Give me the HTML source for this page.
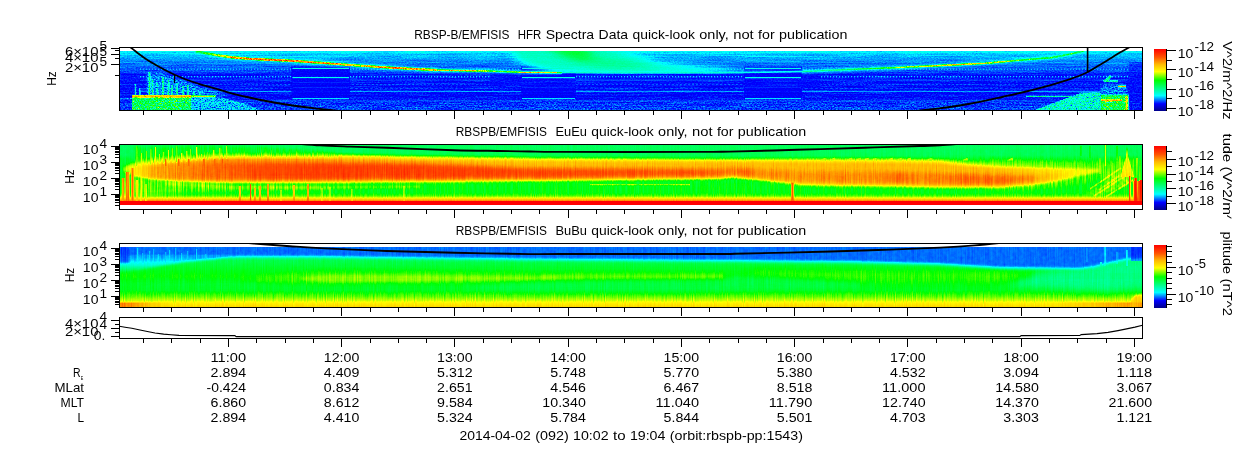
<!DOCTYPE html>
<html><head><meta charset="utf-8"><title>RBSP-B EMFISIS quick-look</title>
<style>html,body{margin:0;padding:0;background:#fff}svg{display:block}text{font-family:"Liberation Sans",sans-serif;fill:#000}.ax path{stroke:#000;fill:none;shape-rendering:crispEdges}</style></head><body>
<svg width="1250" height="449" viewBox="0 0 1250 449">
<rect width="1250" height="449" fill="#fff"/>
<defs>
<linearGradient id="cb" x1="0" y1="1" x2="0" y2="0">
<stop offset="0.0000" stop-color="rgb(0,0,137)"/>
<stop offset="0.1176" stop-color="rgb(0,0,255)"/>
<stop offset="0.2471" stop-color="rgb(0,255,255)"/>
<stop offset="0.4941" stop-color="rgb(0,255,0)"/>
<stop offset="0.6353" stop-color="rgb(255,255,0)"/>
<stop offset="0.7529" stop-color="rgb(255,185,0)"/>
<stop offset="0.8667" stop-color="rgb(255,84,0)"/>
<stop offset="1.0000" stop-color="rgb(255,0,0)"/>
</linearGradient>
<filter id="b05" x="-20%" y="-60%" width="140%" height="220%" color-interpolation-filters="sRGB"><feGaussianBlur stdDeviation="0.5 0.5"/></filter>
<filter id="b1" x="-20%" y="-60%" width="140%" height="220%" color-interpolation-filters="sRGB"><feGaussianBlur stdDeviation="1 1"/></filter>
<filter id="b15" x="-20%" y="-60%" width="140%" height="220%" color-interpolation-filters="sRGB"><feGaussianBlur stdDeviation="1.5 1.5"/></filter>
<filter id="b2" x="-20%" y="-60%" width="140%" height="220%" color-interpolation-filters="sRGB"><feGaussianBlur stdDeviation="2 2"/></filter>
<filter id="b3" x="-20%" y="-60%" width="140%" height="220%" color-interpolation-filters="sRGB"><feGaussianBlur stdDeviation="3 3"/></filter>
<filter id="b6" x="-20%" y="-60%" width="140%" height="220%" color-interpolation-filters="sRGB"><feGaussianBlur stdDeviation="6 3.2"/></filter>
<filter id="bw" x="-20%" y="-60%" width="140%" height="220%" color-interpolation-filters="sRGB"><feGaussianBlur stdDeviation="4 1.2"/></filter>
<filter id="bv" x="-20%" y="-60%" width="140%" height="220%" color-interpolation-filters="sRGB"><feGaussianBlur stdDeviation="0.5 2"/></filter>
<filter id="f1" filterUnits="userSpaceOnUse" x="120" y="51" width="1022" height="59" color-interpolation-filters="sRGB">
<feTurbulence type="fractalNoise" baseFrequency="0.55 0.8" numOctaves="2" seed="7" result="t1"/>
<feColorMatrix in="t1" type="matrix" values="1 0 0 0 0 1 0 0 0 0 1 0 0 0 0 0 0 0 0 1" result="n1"/>
<feTurbulence type="fractalNoise" baseFrequency="0.03 0.9" numOctaves="1" seed="3" result="t2"/>
<feColorMatrix in="t2" type="matrix" values="1 0 0 0 0 1 0 0 0 0 1 0 0 0 0 0 0 0 0 1" result="n2"/>
<feColorMatrix in="SourceGraphic" type="matrix" values="1 0 0 0 0 1 0 0 0 0 1 0 0 0 0 0 0 0 0 1" result="val"/>
<feColorMatrix in="SourceGraphic" type="matrix" values="0 1 0 0 0 0 1 0 0 0 0 1 0 0 0 0 0 0 0 1" result="a1"/>
<feColorMatrix in="SourceGraphic" type="matrix" values="0 0 1 0 0 0 0 1 0 0 0 0 1 0 0 0 0 0 0 1" result="a2"/>
<feColorMatrix in="SourceGraphic" type="matrix" values="0 -1 0 0 1 0 -1 0 0 1 0 -1 0 0 1 0 0 0 0 1" result="i1"/>
<feColorMatrix in="SourceGraphic" type="matrix" values="0 0 -1 0 1 0 0 -1 0 1 0 0 -1 0 1 0 0 0 0 1" result="i2"/>
<feComposite in="val" in2="i1" operator="arithmetic" k1="0" k2="1" k3="0.5" k4="-0.5" result="s1"/>
<feComposite in="s1" in2="i2" operator="arithmetic" k1="0" k2="1" k3="0.5" k4="-0.5" result="s2"/>
<feComposite in="a1" in2="n1" operator="arithmetic" k1="1" k2="0" k3="0" k4="0" result="p1"/>
<feComposite in="a2" in2="n2" operator="arithmetic" k1="1" k2="0" k3="0" k4="0" result="p2"/>
<feComposite in="s2" in2="p1" operator="arithmetic" k1="0" k2="1" k3="1" k4="0" result="q1"/>
<feComposite in="q1" in2="p2" operator="arithmetic" k1="0" k2="1" k3="1" k4="0" result="v"/>
<feComponentTransfer in="v">
<feFuncR type="table" tableValues="0 0 0 0 0 0 0 0 0 0 0 0 0 0 0 0 0 0 0 0 0 0 0 0 0 0 0 0 0 0 0 0 0 0 0 0 0 0 0 0 0 0 0 0.083 0.167 0.25 0.333 0.417 0.5 0.583 0.667 0.75 0.833 0.917 1 1 1 1 1 1 1 1 1 1 1 1 1 1 1 1 1 1 1 1 1 1 1 1 1 1 1 1 1 1 1 1"/>
<feFuncG type="table" tableValues="0 0 0 0 0 0 0 0 0 0 0 0.091 0.182 0.273 0.364 0.455 0.545 0.636 0.727 0.818 0.909 1 1 1 1 1 1 1 1 1 1 1 1 1 1 1 1 1 1 1 1 1 1 1 1 1 1 1 1 1 1 1 1 1 1 0.973 0.945 0.918 0.89 0.863 0.835 0.808 0.78 0.753 0.725 0.685 0.644 0.603 0.562 0.521 0.48 0.439 0.398 0.357 0.32 0.291 0.262 0.233 0.203 0.174 0.145 0.116 0.087 0.058 0.029 0"/>
<feFuncB type="table" tableValues="0.537 0.584 0.63 0.676 0.722 0.769 0.815 0.861 0.907 0.954 1 1 1 1 1 1 1 1 1 1 1 1 0.952 0.905 0.857 0.81 0.762 0.714 0.667 0.619 0.571 0.524 0.476 0.429 0.381 0.333 0.286 0.238 0.19 0.143 0.095 0.048 0 0 0 0 0 0 0 0 0 0 0 0 0 0 0 0 0 0 0 0 0 0 0 0 0 0 0 0 0 0 0 0 0 0 0 0 0 0 0 0 0 0 0 0"/>
</feComponentTransfer></filter>
<clipPath id="k1"><rect x="120" y="51" width="1022" height="59"/></clipPath>
<linearGradient id="g1" gradientUnits="userSpaceOnUse" x1="0" y1="51" x2="0" y2="110">
<stop offset="0.0000" stop-color="#3f1716"/>
<stop offset="0.0271" stop-color="#3d1716"/>
<stop offset="0.0407" stop-color="#391716"/>
<stop offset="0.0847" stop-color="#361716"/>
<stop offset="0.1525" stop-color="#311716"/>
<stop offset="0.2542" stop-color="#2b1716"/>
<stop offset="0.3559" stop-color="#271716"/>
<stop offset="0.3898" stop-color="#201716"/>
<stop offset="0.7797" stop-color="#1f1a16"/>
<stop offset="0.8475" stop-color="#202b16"/>
<stop offset="0.8983" stop-color="#213316"/>
<stop offset="1.0000" stop-color="#223816"/>
</linearGradient>
<linearGradient id="u1" gradientUnits="userSpaceOnUse" x1="190" y1="0" x2="575" y2="0">
<stop offset="0.0000" stop-color="#734c00" stop-opacity="0.5"/>
<stop offset="0.0571" stop-color="#998000" stop-opacity="0.9"/>
<stop offset="0.1091" stop-color="#c2e600" stop-opacity="1"/>
<stop offset="0.1870" stop-color="#dbf200" stop-opacity="1"/>
<stop offset="0.2857" stop-color="#ccf200" stop-opacity="1"/>
<stop offset="0.3636" stop-color="#c7e600" stop-opacity="1"/>
<stop offset="0.4208" stop-color="#b2b200" stop-opacity="1"/>
<stop offset="0.5325" stop-color="#d6cc00" stop-opacity="1"/>
<stop offset="0.6494" stop-color="#b2cc00" stop-opacity="1"/>
<stop offset="0.7273" stop-color="#bdcc00" stop-opacity="1"/>
<stop offset="0.8052" stop-color="#809900" stop-opacity="1"/>
<stop offset="0.8701" stop-color="#a8b200" stop-opacity="1"/>
<stop offset="0.9506" stop-color="#a8b200" stop-opacity="1"/>
<stop offset="0.9922" stop-color="#6b4c00" stop-opacity="0.4"/>
</linearGradient>
<linearGradient id="u3" gradientUnits="userSpaceOnUse" x1="802" y1="0" x2="1086" y2="0">
<stop offset="0.0000" stop-color="#573300" stop-opacity="0.8"/>
<stop offset="0.1690" stop-color="#6b4c00" stop-opacity="0.9"/>
<stop offset="0.3099" stop-color="#858000" stop-opacity="1"/>
<stop offset="0.4331" stop-color="#b2cc00" stop-opacity="1"/>
<stop offset="0.5563" stop-color="#bdcc00" stop-opacity="1"/>
<stop offset="0.6972" stop-color="#a8cc00" stop-opacity="1"/>
<stop offset="0.7676" stop-color="#808000" stop-opacity="1"/>
<stop offset="1.0000" stop-color="#756600" stop-opacity="0.95"/>
</linearGradient>
<filter id="f2" filterUnits="userSpaceOnUse" x="120" y="145" width="1022" height="60" color-interpolation-filters="sRGB">
<feTurbulence type="fractalNoise" baseFrequency="0.9 0.03" numOctaves="2" seed="11" result="t1"/>
<feColorMatrix in="t1" type="matrix" values="1 0 0 0 0 1 0 0 0 0 1 0 0 0 0 0 0 0 0 1" result="n1"/>
<feTurbulence type="fractalNoise" baseFrequency="0.3 0.3" numOctaves="1" seed="4" result="t2"/>
<feColorMatrix in="t2" type="matrix" values="1 0 0 0 0 1 0 0 0 0 1 0 0 0 0 0 0 0 0 1" result="n2"/>
<feColorMatrix in="SourceGraphic" type="matrix" values="1 0 0 0 0 1 0 0 0 0 1 0 0 0 0 0 0 0 0 1" result="val"/>
<feColorMatrix in="SourceGraphic" type="matrix" values="0 1 0 0 0 0 1 0 0 0 0 1 0 0 0 0 0 0 0 1" result="a1"/>
<feColorMatrix in="SourceGraphic" type="matrix" values="0 0 1 0 0 0 0 1 0 0 0 0 1 0 0 0 0 0 0 1" result="a2"/>
<feColorMatrix in="SourceGraphic" type="matrix" values="0 -1 0 0 1 0 -1 0 0 1 0 -1 0 0 1 0 0 0 0 1" result="i1"/>
<feColorMatrix in="SourceGraphic" type="matrix" values="0 0 -1 0 1 0 0 -1 0 1 0 0 -1 0 1 0 0 0 0 1" result="i2"/>
<feComposite in="val" in2="i1" operator="arithmetic" k1="0" k2="1" k3="0.5" k4="-0.5" result="s1"/>
<feComposite in="s1" in2="i2" operator="arithmetic" k1="0" k2="1" k3="0.5" k4="-0.5" result="s2"/>
<feComposite in="a1" in2="n1" operator="arithmetic" k1="1" k2="0" k3="0" k4="0" result="p1"/>
<feComposite in="a2" in2="n2" operator="arithmetic" k1="1" k2="0" k3="0" k4="0" result="p2"/>
<feComposite in="s2" in2="p1" operator="arithmetic" k1="0" k2="1" k3="1" k4="0" result="q1"/>
<feComposite in="q1" in2="p2" operator="arithmetic" k1="0" k2="1" k3="1" k4="0" result="v"/>
<feComponentTransfer in="v">
<feFuncR type="table" tableValues="0 0 0 0 0 0 0 0 0 0 0 0 0 0 0 0 0 0 0 0 0 0 0 0 0 0 0 0 0 0 0 0 0 0 0 0 0 0 0 0 0 0 0 0.083 0.167 0.25 0.333 0.417 0.5 0.583 0.667 0.75 0.833 0.917 1 1 1 1 1 1 1 1 1 1 1 1 1 1 1 1 1 1 1 1 1 1 1 1 1 1 1 1 1 1 1 1"/>
<feFuncG type="table" tableValues="0 0 0 0 0 0 0 0 0 0 0 0.091 0.182 0.273 0.364 0.455 0.545 0.636 0.727 0.818 0.909 1 1 1 1 1 1 1 1 1 1 1 1 1 1 1 1 1 1 1 1 1 1 1 1 1 1 1 1 1 1 1 1 1 1 0.973 0.945 0.918 0.89 0.863 0.835 0.808 0.78 0.753 0.725 0.685 0.644 0.603 0.562 0.521 0.48 0.439 0.398 0.357 0.32 0.291 0.262 0.233 0.203 0.174 0.145 0.116 0.087 0.058 0.029 0"/>
<feFuncB type="table" tableValues="0.537 0.584 0.63 0.676 0.722 0.769 0.815 0.861 0.907 0.954 1 1 1 1 1 1 1 1 1 1 1 1 0.952 0.905 0.857 0.81 0.762 0.714 0.667 0.619 0.571 0.524 0.476 0.429 0.381 0.333 0.286 0.238 0.19 0.143 0.095 0.048 0 0 0 0 0 0 0 0 0 0 0 0 0 0 0 0 0 0 0 0 0 0 0 0 0 0 0 0 0 0 0 0 0 0 0 0 0 0 0 0 0 0 0 0"/>
</feComponentTransfer></filter>
<clipPath id="k2"><rect x="120" y="145" width="1022" height="60"/></clipPath>
<linearGradient id="g2" gradientUnits="userSpaceOnUse" x1="0" y1="145" x2="0" y2="205">
<stop offset="0.0000" stop-color="#670808"/>
<stop offset="0.1667" stop-color="#690a08"/>
<stop offset="0.2333" stop-color="#731a08"/>
<stop offset="0.6000" stop-color="#751f08"/>
<stop offset="0.6500" stop-color="#782108"/>
<stop offset="0.8000" stop-color="#7a2408"/>
<stop offset="0.8500" stop-color="#8a2408"/>
<stop offset="0.8833" stop-color="#a31a08"/>
<stop offset="0.9267" stop-color="#cc1408"/>
<stop offset="0.9317" stop-color="#ff0000"/>
<stop offset="1.0000" stop-color="#ff0000"/>
</linearGradient>
<linearGradient id="h2a" gradientUnits="userSpaceOnUse" x1="120" y1="0" x2="1142" y2="0">
<stop offset="0.0039" stop-color="#9e2108"/>
<stop offset="0.0391" stop-color="#a82108"/>
<stop offset="0.1174" stop-color="#ab2108"/>
<stop offset="0.8611" stop-color="#a82108"/>
<stop offset="0.9560" stop-color="#992108"/>
</linearGradient>
<linearGradient id="h2b" gradientUnits="userSpaceOnUse" x1="120" y1="0" x2="1142" y2="0">
<stop offset="0.0098" stop-color="#a82108"/>
<stop offset="0.0391" stop-color="#c22108"/>
<stop offset="0.1174" stop-color="#c92108"/>
<stop offset="0.1761" stop-color="#c72108"/>
<stop offset="0.2935" stop-color="#c22108"/>
<stop offset="0.4012" stop-color="#bd2108"/>
<stop offset="0.5871" stop-color="#bd2108"/>
<stop offset="0.5969" stop-color="#bd2108"/>
<stop offset="0.8611" stop-color="#bf2108"/>
<stop offset="0.9002" stop-color="#b22108"/>
<stop offset="0.9442" stop-color="#a12108"/>
</linearGradient>
<linearGradient id="h2c" gradientUnits="userSpaceOnUse" x1="120" y1="0" x2="1142" y2="0">
<stop offset="0.0294" stop-color="#c22108"/>
<stop offset="0.0783" stop-color="#d42108"/>
<stop offset="0.1370" stop-color="#e02108"/>
<stop offset="0.2055" stop-color="#e62108"/>
<stop offset="0.3914" stop-color="#e32108"/>
<stop offset="0.5675" stop-color="#de2108"/>
<stop offset="0.5890" stop-color="#d62108"/>
<stop offset="0.5988" stop-color="#d12108"/>
<stop offset="0.6115" stop-color="#d92108"/>
<stop offset="0.6262" stop-color="#cc2108"/>
<stop offset="0.7436" stop-color="#cc2108"/>
<stop offset="0.7632" stop-color="#d92108"/>
<stop offset="0.7779" stop-color="#cc2108"/>
<stop offset="0.8121" stop-color="#d62108"/>
<stop offset="0.8611" stop-color="#d62108"/>
<stop offset="0.8904" stop-color="#cc2108"/>
<stop offset="0.9198" stop-color="#b22108"/>
<stop offset="0.9344" stop-color="#a32108"/>
</linearGradient>
<filter id="f3" filterUnits="userSpaceOnUse" x="120" y="247" width="1022" height="60" color-interpolation-filters="sRGB">
<feTurbulence type="fractalNoise" baseFrequency="0.9 0.03" numOctaves="2" seed="23" result="t1"/>
<feColorMatrix in="t1" type="matrix" values="1 0 0 0 0 1 0 0 0 0 1 0 0 0 0 0 0 0 0 1" result="n1"/>
<feTurbulence type="fractalNoise" baseFrequency="0.3 0.3" numOctaves="1" seed="8" result="t2"/>
<feColorMatrix in="t2" type="matrix" values="1 0 0 0 0 1 0 0 0 0 1 0 0 0 0 0 0 0 0 1" result="n2"/>
<feColorMatrix in="SourceGraphic" type="matrix" values="1 0 0 0 0 1 0 0 0 0 1 0 0 0 0 0 0 0 0 1" result="val"/>
<feColorMatrix in="SourceGraphic" type="matrix" values="0 1 0 0 0 0 1 0 0 0 0 1 0 0 0 0 0 0 0 1" result="a1"/>
<feColorMatrix in="SourceGraphic" type="matrix" values="0 0 1 0 0 0 0 1 0 0 0 0 1 0 0 0 0 0 0 1" result="a2"/>
<feColorMatrix in="SourceGraphic" type="matrix" values="0 -1 0 0 1 0 -1 0 0 1 0 -1 0 0 1 0 0 0 0 1" result="i1"/>
<feColorMatrix in="SourceGraphic" type="matrix" values="0 0 -1 0 1 0 0 -1 0 1 0 0 -1 0 1 0 0 0 0 1" result="i2"/>
<feComposite in="val" in2="i1" operator="arithmetic" k1="0" k2="1" k3="0.5" k4="-0.5" result="s1"/>
<feComposite in="s1" in2="i2" operator="arithmetic" k1="0" k2="1" k3="0.5" k4="-0.5" result="s2"/>
<feComposite in="a1" in2="n1" operator="arithmetic" k1="1" k2="0" k3="0" k4="0" result="p1"/>
<feComposite in="a2" in2="n2" operator="arithmetic" k1="1" k2="0" k3="0" k4="0" result="p2"/>
<feComposite in="s2" in2="p1" operator="arithmetic" k1="0" k2="1" k3="1" k4="0" result="q1"/>
<feComposite in="q1" in2="p2" operator="arithmetic" k1="0" k2="1" k3="1" k4="0" result="v"/>
<feComponentTransfer in="v">
<feFuncR type="table" tableValues="0 0 0 0 0 0 0 0 0 0 0 0 0 0 0 0 0 0 0 0 0 0 0 0 0 0 0 0 0 0 0 0 0 0 0 0 0 0 0 0 0 0 0 0.083 0.167 0.25 0.333 0.417 0.5 0.583 0.667 0.75 0.833 0.917 1 1 1 1 1 1 1 1 1 1 1 1 1 1 1 1 1 1 1 1 1 1 1 1 1 1 1 1 1 1 1 1"/>
<feFuncG type="table" tableValues="0 0 0 0 0 0 0 0 0 0 0 0.091 0.182 0.273 0.364 0.455 0.545 0.636 0.727 0.818 0.909 1 1 1 1 1 1 1 1 1 1 1 1 1 1 1 1 1 1 1 1 1 1 1 1 1 1 1 1 1 1 1 1 1 1 0.973 0.945 0.918 0.89 0.863 0.835 0.808 0.78 0.753 0.725 0.685 0.644 0.603 0.562 0.521 0.48 0.439 0.398 0.357 0.32 0.291 0.262 0.233 0.203 0.174 0.145 0.116 0.087 0.058 0.029 0"/>
<feFuncB type="table" tableValues="0.537 0.584 0.63 0.676 0.722 0.769 0.815 0.861 0.907 0.954 1 1 1 1 1 1 1 1 1 1 1 1 0.952 0.905 0.857 0.81 0.762 0.714 0.667 0.619 0.571 0.524 0.476 0.429 0.381 0.333 0.286 0.238 0.19 0.143 0.095 0.048 0 0 0 0 0 0 0 0 0 0 0 0 0 0 0 0 0 0 0 0 0 0 0 0 0 0 0 0 0 0 0 0 0 0 0 0 0 0 0 0 0 0 0 0"/>
</feComponentTransfer></filter>
<clipPath id="k3"><rect x="120" y="247" width="1022" height="60"/></clipPath>
<linearGradient id="g3" gradientUnits="userSpaceOnUse" x1="0" y1="247" x2="0" y2="307">
<stop offset="0.0000" stop-color="#661405"/>
<stop offset="0.2500" stop-color="#6c1405"/>
<stop offset="0.3500" stop-color="#741405"/>
<stop offset="0.4833" stop-color="#7d1405"/>
<stop offset="0.6167" stop-color="#741405"/>
<stop offset="0.7167" stop-color="#771405"/>
<stop offset="0.7833" stop-color="#822405"/>
<stop offset="0.8333" stop-color="#8c2905"/>
<stop offset="0.8833" stop-color="#982405"/>
<stop offset="0.9333" stop-color="#a61a05"/>
<stop offset="1.0000" stop-color="#b21405"/>
</linearGradient>
<linearGradient id="g3t" gradientUnits="userSpaceOnUse" x1="0" y1="255" x2="0" y2="272">
<stop offset="0.0000" stop-color="#2f0f08"/>
<stop offset="0.2941" stop-color="#390f05"/>
<stop offset="0.5294" stop-color="#450f05"/>
<stop offset="0.7647" stop-color="#5c1205"/>
<stop offset="1.0000" stop-color="#701405"/>
</linearGradient>
<linearGradient id="h3o" gradientUnits="userSpaceOnUse" x1="120" y1="0" x2="175" y2="0">
<stop offset="0.0000" stop-color="#d11a00" stop-opacity="1"/>
<stop offset="0.2182" stop-color="#cc1a00" stop-opacity="1"/>
<stop offset="0.5455" stop-color="#bd1a00" stop-opacity="0.8"/>
<stop offset="1.0000" stop-color="#b21a00" stop-opacity="0"/>
</linearGradient>
<linearGradient id="h3p" gradientUnits="userSpaceOnUse" x1="1040" y1="0" x2="1142" y2="0">
<stop offset="0.0000" stop-color="#b21a00" stop-opacity="0"/>
<stop offset="0.5882" stop-color="#bd1a00" stop-opacity="0.9"/>
<stop offset="0.8627" stop-color="#c71a00" stop-opacity="1"/>
<stop offset="0.9412" stop-color="#db1a00" stop-opacity="1"/>
<stop offset="1.0000" stop-color="#e01a00" stop-opacity="1"/>
</linearGradient>
</defs>
<g filter="url(#f1)"><g clip-path="url(#k1)">
<rect x="120" y="51" width="1022" height="59" fill="url(#g1)"/>
<polyline points="140,69.2 1128,69.2" fill="none" stroke="#450d05" stroke-width="1" opacity="0.75" stroke-dasharray="1 2"/>
<polyline points="140,76.8 1128,76.8" fill="none" stroke="#4c0d05" stroke-width="1" opacity="0.85" stroke-dasharray="1.2 1.8"/>
<polyline points="140,80.2 1128,80.2" fill="none" stroke="#330d05" stroke-width="1" opacity="0.5"/>
<polyline points="140,84.4 1128,84.4" fill="none" stroke="#360d05" stroke-width="1" opacity="0.5" stroke-dasharray="2 2"/>
<polyline points="140,88.5 1128,88.5" fill="none" stroke="#300d05" stroke-width="1" opacity="0.45" stroke-dasharray="3 2"/>
<polyline points="140,91.4 1128,91.4" fill="none" stroke="#3b0d05" stroke-width="1" opacity="0.8"/>
<polyline points="140,101 1128,101" fill="none" stroke="#380d05" stroke-width="1" opacity="0.7"/>
<polyline points="140,55.5 1128,55.5" fill="none" stroke="#400d05" stroke-width="1" opacity="0.35" stroke-dasharray="1 2"/>
<polyline points="140,58.5 1128,58.5" fill="none" stroke="#3b0d05" stroke-width="1" opacity="0.35" stroke-dasharray="1 2"/>
<polyline points="140,62.5 1128,62.5" fill="none" stroke="#360d05" stroke-width="1" opacity="0.35" stroke-dasharray="1 2"/>
<polyline points="140,65.5 1128,65.5" fill="none" stroke="#330d05" stroke-width="1" opacity="0.3" stroke-dasharray="1 2"/>
<rect x="291.5" y="66.5" width="58.5" height="32.5" fill="#1d0d08" opacity="0.92"/>
<rect x="292.5" y="67.85" width="56.5" height="1.1" fill="#470a00"/>
<rect x="292.5" y="77.05" width="56.5" height="1.1" fill="#470a00"/>
<rect x="292.5" y="98.05" width="56.5" height="1.1" fill="#3d0a00"/>
<rect x="292.5" y="82" width="56.5" height="1" fill="#260a00" opacity="0.7"/>
<rect x="292.5" y="87" width="56.5" height="1" fill="#260a00" opacity="0.7"/>
<rect x="292.5" y="56.1" width="56.5" height="1" fill="#420a00" opacity="0.7"/>
<rect x="292.5" y="61.1" width="56.5" height="1" fill="#3b0a00" opacity="0.7"/>
<rect x="521" y="66.5" width="55" height="32.5" fill="#1d0d08" opacity="0.92"/>
<rect x="522" y="67.85" width="53" height="1.1" fill="#470a00"/>
<rect x="522" y="77.05" width="53" height="1.1" fill="#470a00"/>
<rect x="522" y="98.05" width="53" height="1.1" fill="#3d0a00"/>
<rect x="522" y="82" width="53" height="1" fill="#260a00" opacity="0.7"/>
<rect x="522" y="87" width="53" height="1" fill="#260a00" opacity="0.7"/>
<rect x="522" y="56.1" width="53" height="1" fill="#420a00" opacity="0.7"/>
<rect x="522" y="61.1" width="53" height="1" fill="#3b0a00" opacity="0.7"/>
<rect x="744" y="66.5" width="58" height="32.5" fill="#1d0d08" opacity="0.92"/>
<rect x="745" y="67.85" width="56" height="1.1" fill="#470a00"/>
<rect x="745" y="77.05" width="56" height="1.1" fill="#470a00"/>
<rect x="745" y="98.05" width="56" height="1.1" fill="#3d0a00"/>
<rect x="745" y="82" width="56" height="1" fill="#260a00" opacity="0.7"/>
<rect x="745" y="87" width="56" height="1" fill="#260a00" opacity="0.7"/>
<rect x="745" y="56.1" width="56" height="1" fill="#420a00" opacity="0.7"/>
<rect x="745" y="61.1" width="56" height="1" fill="#3b0a00" opacity="0.7"/>
<g filter="url(#b6)">
<polygon points="516,40 600,40 618,52 660,63 745,72.5 600,73.4 556,72.6 532,66 514,58" fill="#4f0d0a" opacity="0.95"/>
<polygon points="541,36 577,36 586,50 602,60 584,63 565,57 551,50" fill="#730d0a" opacity="0.95"/>
<polygon points="582,57 612,58 664,69.5 622,72.5 592,67" fill="#5e0d0a" opacity="0.8"/>
</g>
<polygon points="600,68.5 700,67.5 805,71 805,73 600,73.4" fill="#450d0d" opacity="0.55" filter="url(#b3)"/>
<rect x="490" y="73.4" width="330" height="13" fill="#201212" opacity="0.93" filter="url(#b05)"/>
<polyline points="576,76.8 744,76.8" fill="none" stroke="#4c0d05" stroke-width="1" opacity="0.85" stroke-dasharray="1.2 1.8"/>
<polyline points="576,80.2 744,80.2" fill="none" stroke="#330d05" stroke-width="1" opacity="0.5"/>
<polyline points="576,84.4 744,84.4" fill="none" stroke="#360d05" stroke-width="1" opacity="0.5" stroke-dasharray="2 2"/>
<rect x="522" y="77.05" width="53" height="1.1" fill="#470a00"/>
<rect x="521" y="73.4" width="55" height="3" fill="#1d0d08" opacity="0.9"/>
<rect x="745" y="77.05" width="56" height="1.1" fill="#470a00"/>
<rect x="744" y="73.4" width="58" height="3" fill="#1d0d08" opacity="0.9"/>
<polyline points="195.6,51.4 215.8,55 232.6,57.4 249.4,58.8 266,59.6 283,60.3 299.8,61.3 316.6,62.5 336.8,64 387,67.5 437.6,70.2" fill="none" stroke="#4f1a0d" stroke-width="5" opacity="0.5" filter="url(#b1)"/>
<polyline points="195.6,51.4 215.8,55 232.6,57.4 249.4,58.8 266,59.6 283,60.3 299.8,61.3 316.6,62.5 336.8,64 387,67.5 437.6,70.2" fill="none" stroke="url(#u1)" stroke-width="2.2" filter="url(#b05)"/>
<polyline points="437.6,70.2 488,71 521.7,72.2 562,72.6" fill="none" stroke="#4f1a0d" stroke-width="3.4" opacity="0.5" filter="url(#b1)"/>
<polyline points="437.6,70.2 488,71 521.7,72.2 562,72.6" fill="none" stroke="url(#u1)" stroke-width="1.4" filter="url(#b05)"/>
<polyline points="802,71.6 847.6,69.6 898,67.6 940,65.6 985.4,63.3 1019,60.2 1052.6,57.4 1069.4,54.2 1085,50.6" fill="none" stroke="#4f1a0d" stroke-width="3.6" opacity="0.5" filter="url(#b1)"/>
<polyline points="802,71.6 847.6,69.6 898,67.6 940,65.6 985.4,63.3 1019,60.2 1052.6,57.4 1069.4,54.2 1085,50.6" fill="none" stroke="url(#u3)" stroke-width="1.5" filter="url(#b05)"/>
<polyline points="562,72.6 650,72.7 740,72.6 802,71.6" fill="none" stroke="#4c140d" stroke-width="1.5" opacity="0.8" filter="url(#b05)"/>
<g filter="url(#b05)">
<polygon points="132,96 191.5,96 191.5,111 132,111" fill="#69b800"/>
<polygon points="191.5,97.5 222,97.5 246,104 262,111 191.5,111" fill="#3b6b00" opacity="0.9"/>
</g>
<polygon points="147,96 147,75 160,72.5 182,80.5 199,86.5 216,91.5 230,96" fill="#335c00" opacity="0.75" filter="url(#b1)"/>
<rect x="148.7" y="72" width="1.6" height="24" fill="#6b9900" opacity="0.9"/>
<rect x="151.7" y="79" width="1.6" height="17" fill="#5c9900" opacity="0.9"/>
<rect x="156.7" y="83" width="1.6" height="13" fill="#529900" opacity="0.9"/>
<rect x="162.2" y="77" width="1.6" height="19" fill="#669900" opacity="0.9"/>
<rect x="167.7" y="80" width="1.6" height="16" fill="#5c9900" opacity="0.9"/>
<rect x="171.2" y="85" width="1.6" height="11" fill="#5c9900" opacity="0.9"/>
<rect x="176.2" y="83" width="1.6" height="13" fill="#5c9900" opacity="0.9"/>
<rect x="182.2" y="86" width="1.6" height="10" fill="#5c9900" opacity="0.9"/>
<rect x="187.2" y="85" width="1.6" height="11" fill="#549900" opacity="0.9"/>
<rect x="193.2" y="89" width="1.6" height="7" fill="#4f9900" opacity="0.9"/>
<rect x="199.2" y="91" width="1.6" height="5" fill="#4a9900" opacity="0.9"/>
<rect x="139" y="88" width="1.6" height="8" fill="#459900" opacity="0.9"/>
<rect x="134.7" y="84" width="1.6" height="12" fill="#3d9900" opacity="0.9"/>
<rect x="132" y="95.2" width="59.5" height="2.4" fill="#c26600"/>
<rect x="191.5" y="95.5" width="24" height="1.7" fill="#a36600"/>
<rect x="120" y="98.2" width="12" height="1" fill="#3d4c00"/>
<g filter="url(#b05)">
<polygon points="1032,111 1058,101.5 1082,92.6 1101,92.6 1101,111" fill="#4f8c00" opacity="0.9"/>
<polygon points="1101,94.5 1128.5,94.5 1128.5,111 1101,111" fill="#6eb800"/>
</g>
<polygon points="1098,94.5 1103,84 1124,84 1128.5,94.5" fill="#335c00" opacity="0.7" filter="url(#b1)"/>
<rect x="1101" y="99.4" width="21" height="1.8" fill="#c26600"/>
<rect x="1125.6" y="96" width="2.1" height="14" fill="#b28000"/>
<rect x="1118" y="85.8" width="8" height="1.4" fill="#b86600"/>
<rect x="1104" y="80.5" width="14" height="1.6" fill="#576600"/>
<polygon points="1103,81 1110,75.5 1112,76.5 1107,82" fill="#5c6600"/>
<rect x="1026" y="95.8" width="46" height="1.2" fill="#576600"/>
<rect x="1129" y="62" width="13" height="48" fill="#1f1a0f" opacity="0.6"/>
</g></g>
<g filter="url(#f2)"><g clip-path="url(#k2)">
<rect x="120" y="145" width="1022" height="60" fill="url(#g2)"/>
<polygon points="990,160 1060,161 1100,162 1136,158 1136,180 1104,180 1072,184 1040,188.5 990,189" fill="#954c0d" opacity="0.6" filter="url(#b2)"/>
<polygon points="124,166.76 135,162.22 150,158.89 180,155.908 220,154.046 320,154.258 420,156.208 530,158.07 720,159.156 732,159.234 770,159.118 805,158.984 900,159.118 940,159.694 965,162.026 1000,164.588 1040,166.252 1070,167.43 1099,168.85 1099,171.65 1070,178.07 1040,183.948 1000,187.212 965,187.674 940,187.806 900,186.782 805,185.416 770,181.182 732,177.266 720,178.644 530,181.03 420,182.192 320,183.042 220,183.054 180,181.892 150,179.61 135,176.78 124,171.24" fill="url(#h2a)" filter="url(#b15)"/>
<polygon points="135,164.04 150,161.48 180,159.156 220,157.672 320,157.856 420,159.456 530,160.94 720,161.592 732,161.488 770,161.876 805,162.288 900,162.576 940,163.208 965,165.232 1000,167.416 1040,168.464 1070,168.76 1099,169.2 1099,171.425 1070,177.215 1040,182.526 1000,185.394 965,185.613 940,185.547 900,184.559 805,183.292 770,179.409 732,175.817 720,177.078 530,179.185 420,180.104 320,180.729 220,180.723 180,179.804 150,177.945 135,175.61" fill="url(#h2b)" filter="url(#b1)"/>
<polygon points="150,164.995 180,163.564 220,162.593 320,162.739 420,163.864 530,167.91 720,168.9 732,167.606 770,169.362 805,171.256 900,171.962 940,172.746 965,173.934 1000,175.092 1040,174.468 1070,172.37 1070,176.74 1040,181.736 1000,184.384 965,184.468 940,184.292 900,183.324 805,182.112 770,178.424 732,175.012 720,176.208 530,178.16 420,178.944 320,179.444 220,179.428 180,178.644 150,177.02" fill="url(#h2c)" filter="url(#b2)"/>
<polygon points="935,160.5 1000,160 1075,164 1100,168 1000,167 960,164" fill="#8f2608" opacity="0.6" filter="url(#b2)"/>
<polygon points="165,182 230,186 330,186.3 420,185.5 420,187.5 330,188.6 230,188.4 165,185" fill="#993308" opacity="0.8" filter="url(#b1)"/>
<rect x="590" y="184" width="100" height="1.3" fill="#993308" opacity="0.8"/>
<polygon points="130,178 170,181.5 240,185.5 330,186.5 330,189 240,190.5 170,193 130,197" fill="#944c0d" opacity="0.55" filter="url(#b15)"/>
<rect x="121.75" y="178" width="2.5" height="23" fill="#cc3308" filter="url(#b05)"/>
<rect x="125.75" y="172" width="3.5" height="29" fill="#d63308" filter="url(#b05)"/>
<rect x="131.25" y="168" width="2.5" height="33" fill="#cc3308" filter="url(#b05)"/>
<rect x="136.25" y="180" width="1.5" height="21" fill="#b83308" filter="url(#b05)"/>
<rect x="140.25" y="176" width="1.5" height="25" fill="#a83308" filter="url(#b05)"/>
<rect x="145.25" y="184" width="1.5" height="17" fill="#a33308" filter="url(#b05)"/>
<polygon points="134,147 200,146 260,147 335,152 335,157 220,157 134,166" fill="#874c0d" opacity="0.5" filter="url(#b15)"/>
<rect x="136" y="146" width="1.3" height="20" fill="#941a08" opacity="0.85"/>
<rect x="141" y="153" width="1.3" height="12.6" fill="#a31a08" opacity="0.85"/>
<rect x="146" y="151" width="1.3" height="14.2" fill="#9c1a08" opacity="0.85"/>
<rect x="150" y="149" width="1.3" height="15.8" fill="#941a08" opacity="0.85"/>
<rect x="155" y="147" width="1.3" height="17.4" fill="#a31a08" opacity="0.85"/>
<rect x="159" y="154" width="1.3" height="10" fill="#9c1a08" opacity="0.85"/>
<rect x="163" y="152" width="1.3" height="11.6" fill="#941a08" opacity="0.85"/>
<rect x="168" y="150" width="1.3" height="13.2" fill="#a31a08" opacity="0.85"/>
<rect x="172" y="148" width="1.3" height="14.8" fill="#9c1a08" opacity="0.85"/>
<rect x="176" y="146" width="1.3" height="16.4" fill="#941a08" opacity="0.85"/>
<rect x="181" y="153" width="1.3" height="9" fill="#a31a08" opacity="0.85"/>
<rect x="186" y="151" width="1.3" height="10.6" fill="#9c1a08" opacity="0.85"/>
<rect x="190" y="149" width="1.3" height="12.2" fill="#941a08" opacity="0.85"/>
<rect x="196" y="147" width="1.3" height="13.8" fill="#a31a08" opacity="0.85"/>
<rect x="201" y="154" width="1.3" height="6.4" fill="#9c1a08" opacity="0.85"/>
<rect x="207" y="152" width="1.3" height="8" fill="#941a08" opacity="0.85"/>
<rect x="213" y="150" width="1.3" height="9.6" fill="#a31a08" opacity="0.85"/>
<rect x="219" y="148" width="1.3" height="11.2" fill="#9c1a08" opacity="0.85"/>
<rect x="226" y="146" width="1.3" height="12.8" fill="#941a08" opacity="0.85"/>
<rect x="165" y="159" width="1.4" height="7" fill="#d91a08"/>
<rect x="178" y="159" width="1.4" height="7" fill="#d91a08"/>
<rect x="188" y="159" width="1.4" height="7" fill="#d91a08"/>
<rect x="203" y="159" width="1.4" height="7" fill="#d91a08"/>
<rect x="214" y="159" width="1.4" height="7" fill="#d91a08"/>
<rect x="222" y="159" width="1.4" height="7" fill="#d91a08"/>
<rect x="239.4" y="186" width="1.2" height="15" fill="#e01a08"/>
<rect x="249.9" y="184" width="1.2" height="17" fill="#e01a08"/>
<rect x="254.425" y="188" width="1.15" height="13" fill="#e01a08"/>
<rect x="259.4" y="186" width="1.2" height="15" fill="#e01a08"/>
<rect x="267.35" y="184" width="1.3" height="17" fill="#e01a08"/>
<rect x="280.5" y="190" width="1" height="11" fill="#a81a08"/>
<rect x="293.4" y="185" width="1.2" height="16" fill="#e01a08"/>
<rect x="307.3" y="184" width="1.4" height="17" fill="#e01a08"/>
<rect x="321.5" y="188" width="1" height="13" fill="#a81a08"/>
<rect x="329.5" y="187" width="1" height="14" fill="#a81a08"/>
<rect x="351.5" y="189" width="1" height="12" fill="#a81a08"/>
<rect x="403.5" y="186" width="1" height="15" fill="#a81a08"/>
<rect x="791.35" y="182.5" width="2.3" height="18.5" fill="#e01a08"/>
<polygon points="820,160.5 825.5,157.2 826.2,160.5" fill="#991a08"/>
<polygon points="829,160.5 834.5,157.2 835.2,160.5" fill="#991a08"/>
<polygon points="846,160.5 851.5,157.2 852.2,160.5" fill="#991a08"/>
<polygon points="855,160.5 860.5,157.2 861.2,160.5" fill="#991a08"/>
<polygon points="863,160.5 868.5,157.2 869.2,160.5" fill="#991a08"/>
<polygon points="871,160.5 876.5,157.2 877.2,160.5" fill="#991a08"/>
<polygon points="887,160.5 892.5,157.2 893.2,160.5" fill="#991a08"/>
<polygon points="896,160.5 901.5,157.2 902.2,160.5" fill="#991a08"/>
<polygon points="905,160.5 910.5,157.2 911.2,160.5" fill="#991a08"/>
<polygon points="926,160.5 931.5,157.2 932.2,160.5" fill="#991a08"/>
<polygon points="962,160.5 967.5,157.2 968.2,160.5" fill="#991a08"/>
<polygon points="1007,160.5 1012.5,157.2 1013.2,160.5" fill="#991a08"/>
<polygon points="1086,193 1133,166 1133,183 1098,197" fill="#99594c" opacity="0.5" filter="url(#b1)"/>
<polyline points="1094,196 1131,172" fill="none" stroke="#a34033" stroke-width="1.6" opacity="0.7" filter="url(#b05)"/>
<polyline points="1099,190 1129,169" fill="none" stroke="#a34033" stroke-width="1.6" opacity="0.7" filter="url(#b05)"/>
<polyline points="1090,189 1121,168" fill="none" stroke="#a34033" stroke-width="1.6" opacity="0.7" filter="url(#b05)"/>
<polyline points="1104,198 1133,180" fill="none" stroke="#a34033" stroke-width="1.6" opacity="0.7" filter="url(#b05)"/>
<rect x="1104.75" y="145" width="1.5" height="21" fill="#9e2608" opacity="0.9" filter="url(#b05)"/>
<rect x="1099.4" y="158" width="1.2" height="16" fill="#9e2608" opacity="0.9" filter="url(#b05)"/>
<rect x="1112.4" y="163" width="1.2" height="15" fill="#992608" opacity="0.9" filter="url(#b05)"/>
<rect x="1116.4" y="146" width="1.2" height="14" fill="#8c2608" opacity="0.9" filter="url(#b05)"/>
<rect x="1119.4" y="156" width="1.2" height="24" fill="#992608" opacity="0.9" filter="url(#b05)"/>
<rect x="1136.3" y="158" width="1.4" height="22" fill="#992608" opacity="0.9" filter="url(#b05)"/>
<rect x="1080.5" y="146" width="1" height="10" fill="#872608" opacity="0.9" filter="url(#b05)"/>
<rect x="1089.5" y="146" width="1" height="12" fill="#872608" opacity="0.9" filter="url(#b05)"/>
<rect x="1139.4" y="160" width="1.2" height="20" fill="#942608" opacity="0.9" filter="url(#b05)"/>
<polygon points="1127,146 1125.6,158 1120.5,177 1134,177 1128.6,158" fill="#a84008" opacity="0.92" filter="url(#b05)"/>
<rect x="1133.5" y="181" width="8.5" height="24" fill="#db4c08" opacity="0.95" filter="url(#b05)"/>
<rect x="1134.3" y="178" width="2.6" height="27" fill="#f22608" filter="url(#b05)"/>
<rect x="1139.6" y="180" width="2.4" height="25" fill="#f22608" filter="url(#b05)"/>
<rect x="1129" y="176" width="1.3" height="25" fill="#e63308"/>
<rect x="120" y="201" width="1022" height="4" fill="#ff0000"/>
</g></g>
<g filter="url(#f3)"><g clip-path="url(#k3)">
<rect x="120" y="247" width="1022" height="60" fill="url(#g3)"/>
<polygon points="240,279 290,273.5 320,270.5 420,271 530,273 600,272.5 724,272.8 724,280 600,280.5 530,283 420,285 320,286 290,284 240,281" fill="#8a1f05" opacity="0.6" filter="url(#b2)"/>
<polygon points="300,277 330,274.5 420,275 530,276.3 560,275.6 560,279.3 530,280 420,281.8 330,282.6 300,280" fill="#941705" opacity="0.75" filter="url(#b1)"/>
<polygon points="540,275.4 600,274.8 722,274.8 722,278.2 600,278.4 540,279.4" fill="#8f1705" opacity="0.6" filter="url(#b1)"/>
<polygon points="760,268 1000,270 1040,276 1000,284 900,286 800,281 740,272" fill="#871a05" opacity="0.6" filter="url(#b3)"/>
<polygon points="470,286 560,282 724,280.5 735,276 790,279 860,283 860,288 700,291 560,291 470,290" fill="#6c1405" opacity="0.8" filter="url(#b2)"/>
<polygon points="130,284 300,286 470,286 470,290 300,290 130,290" fill="#731405" opacity="0.5" filter="url(#b2)"/>
<polygon points="1010,286 1040,272 1085,268 1110,262 1150,258 1150,287 1110,291" fill="#5b1405" opacity="0.9" filter="url(#b3)"/>
<polygon points="118,240 118,257.6 220,257.2 320,257.3 420,258.5 530,259.8 735,261.2 850,262.3 940,264.5 1000,268.3 1080,269 1095,267 1110,263 1125,260 1144,258 1144,240" fill="#2c0808" filter="url(#b15)"/>
<polygon points="116,255 236,255 215,259 186,262 160,266 140,270 116,272" fill="url(#g3t)" filter="url(#b1)"/>
<rect x="120" y="247" width="9" height="16" fill="#250d05" opacity="0.8" filter="url(#b1)"/>
<rect x="137" y="248" width="1.3" height="16" fill="#3c0d05" opacity="0.7"/>
<rect x="142" y="253" width="1.3" height="10.5" fill="#3c0d05" opacity="0.7"/>
<rect x="149" y="251" width="1.3" height="12" fill="#3c0d05" opacity="0.7"/>
<rect x="153" y="249" width="1.3" height="13.5" fill="#3c0d05" opacity="0.7"/>
<rect x="158" y="254" width="1.3" height="8" fill="#3c0d05" opacity="0.7"/>
<rect x="165" y="252" width="1.3" height="9.5" fill="#3c0d05" opacity="0.7"/>
<rect x="169" y="250" width="1.3" height="11" fill="#3c0d05" opacity="0.7"/>
<rect x="175" y="248" width="1.3" height="12.5" fill="#3c0d05" opacity="0.7"/>
<rect x="181" y="253" width="1.3" height="7" fill="#3c0d05" opacity="0.7"/>
<rect x="187" y="251" width="1.3" height="8.5" fill="#3c0d05" opacity="0.7"/>
<rect x="196" y="249" width="1.3" height="10" fill="#3c0d05" opacity="0.7"/>
<rect x="205" y="254" width="1.3" height="4.5" fill="#3c0d05" opacity="0.7"/>
<rect x="1104.35" y="247" width="1.3" height="19" fill="#450d05" opacity="0.9" filter="url(#b05)"/>
<rect x="1126.2" y="250" width="1.6" height="16" fill="#400d05" opacity="0.9" filter="url(#b05)"/>
<rect x="1116.5" y="252" width="1" height="12" fill="#3b0d05" opacity="0.9" filter="url(#b05)"/>
<rect x="1086.5" y="248" width="1" height="14" fill="#380d05" opacity="0.9" filter="url(#b05)"/>
<rect x="1100.5" y="262" width="1" height="8" fill="#5c0d05" opacity="0.9" filter="url(#b05)"/>
<rect x="1131" y="247" width="11" height="14" fill="#220d05" opacity="0.7" filter="url(#b05)"/>
<rect x="120" y="302.5" width="55" height="5" fill="url(#h3o)" filter="url(#b05)"/>
<rect x="1040" y="302.5" width="102" height="5" fill="url(#h3p)" filter="url(#b05)"/>
<polygon points="1128,308 1134,296 1142,294 1143,308" fill="#bd1a05" opacity="0.8" filter="url(#b1)"/>
</g></g>
<clipPath id="kp1"><rect x="120" y="48" width="1022" height="62"/></clipPath>
<clipPath id="kp2"><rect x="120" y="145" width="1022" height="64"/></clipPath>
<clipPath id="kp3"><rect x="120" y="244" width="1022" height="63"/></clipPath>
<g fill="none" stroke="#000" stroke-linejoin="round">
<g clip-path="url(#kp1)" stroke-width="1.8">
<path d="M124.00 43.00C125.30 43.90 129.13 46.43 131.80 48.40C134.47 50.37 137.20 52.73 140.00 54.80C142.80 56.87 144.37 58.23 148.60 60.80C152.83 63.37 159.80 67.33 165.40 70.20C171.00 73.07 176.60 75.73 182.20 78.00C187.80 80.27 193.40 82.02 199.00 83.80C204.60 85.58 210.20 87.07 215.80 88.70C221.40 90.33 227.00 92.13 232.60 93.60C238.20 95.07 243.83 96.27 249.40 97.50C254.97 98.73 260.40 99.92 266.00 101.00C271.60 102.08 277.37 103.08 283.00 104.00C288.63 104.92 294.20 105.73 299.80 106.50C305.40 107.27 309.90 107.85 316.60 108.60C323.30 109.35 336.10 110.60 340.00 111.00"/>
<path d="M915.00 111.00C918.33 110.65 926.07 110.07 935.00 108.90C943.93 107.73 957.40 105.98 968.60 104.00C979.80 102.02 991.00 99.47 1002.20 97.00C1013.40 94.53 1024.60 92.15 1035.80 89.20C1047.00 86.25 1060.98 82.03 1069.40 79.30C1077.82 76.57 1080.70 75.52 1086.30 72.80C1091.90 70.08 1097.40 66.37 1103.00 63.00C1108.60 59.63 1115.73 55.10 1119.90 52.60C1124.07 50.10 1125.48 49.52 1128.00 48.00C1130.52 46.48 1133.83 44.25 1135.00 43.50"/>
<path d="M1087.6 47V72.5" stroke-width="1.6"/>
<path d="M174.5 75V83" stroke-width="1.2"/>
</g>
<g clip-path="url(#kp2)" stroke-width="1.9">
<path d="M296.00 143.60C300.00 143.90 311.00 144.90 320.00 145.40C329.00 145.90 338.83 146.20 350.00 146.60C361.17 147.00 369.67 147.20 387.00 147.80C404.33 148.40 435.17 149.67 454.00 150.20C472.83 150.73 487.33 150.78 500.00 151.00C512.67 151.22 520.00 151.35 530.00 151.50C540.00 151.65 531.67 151.83 560.00 151.90C588.33 151.97 671.67 151.95 700.00 151.90C728.33 151.85 713.83 151.95 730.00 151.60C746.17 151.25 774.58 150.45 797.00 149.80C819.42 149.15 844.00 148.33 864.50 147.70C885.00 147.07 907.42 146.40 920.00 146.00C932.58 145.60 933.33 145.67 940.00 145.30C946.67 144.93 956.67 144.05 960.00 143.80"/>
</g>
<g clip-path="url(#kp3)" stroke-width="1.9">
<path d="M236.00 241.80C239.00 242.08 245.00 242.77 254.00 243.50C263.00 244.23 278.17 245.38 290.00 246.20C301.83 247.02 308.83 247.60 325.00 248.40C341.17 249.20 365.42 250.28 387.00 251.00C408.58 251.72 430.67 252.18 454.50 252.70C478.33 253.22 512.42 253.88 530.00 254.10C547.58 254.32 528.33 254.02 560.00 254.00C591.67 253.98 690.83 254.03 720.00 254.00C749.17 253.97 716.50 254.22 735.00 253.80C753.50 253.38 805.17 252.20 831.00 251.50C856.83 250.80 871.83 250.25 890.00 249.60C908.17 248.95 925.83 248.30 940.00 247.60C954.17 246.90 964.33 246.23 975.00 245.40C985.67 244.57 999.17 243.07 1004.00 242.60"/>
</g>
<polyline stroke-width="1.1" points="119.5,326.3 125,327.2 131.8,328.3 140,330 148.6,331.8 155,333 163.7,334.1 171,334.8 179,335.4 235,335.6 236,336.6 1020,336.6 1021,335.6 1080,335.4 1081,334.6 1097,333.6 1108,332.4 1118,330.6 1126.6,328.9 1135,327.1 1142.5,325.2"/>
</g>
<g class="ax">
<rect x="119.5" y="47.5" width="1023" height="63" fill="none" stroke="#000" stroke-width="1" shape-rendering="crispEdges"/>
<path d="M143.5 111V115" stroke-width="1"/>
<path d="M171.5 111V115" stroke-width="1"/>
<path d="M200.5 111V115" stroke-width="1"/>
<path d="M228.5 111V119" stroke-width="1"/>
<path d="M256.5 111V115" stroke-width="1"/>
<path d="M285.5 111V115" stroke-width="1"/>
<path d="M313.5 111V115" stroke-width="1"/>
<path d="M341.5 111V119" stroke-width="1"/>
<path d="M370.5 111V115" stroke-width="1"/>
<path d="M398.5 111V115" stroke-width="1"/>
<path d="M426.5 111V115" stroke-width="1"/>
<path d="M454.5 111V119" stroke-width="1"/>
<path d="M483.5 111V115" stroke-width="1"/>
<path d="M511.5 111V115" stroke-width="1"/>
<path d="M539.5 111V115" stroke-width="1"/>
<path d="M568.5 111V119" stroke-width="1"/>
<path d="M596.5 111V115" stroke-width="1"/>
<path d="M624.5 111V115" stroke-width="1"/>
<path d="M653.5 111V115" stroke-width="1"/>
<path d="M681.5 111V119" stroke-width="1"/>
<path d="M709.5 111V115" stroke-width="1"/>
<path d="M738.5 111V115" stroke-width="1"/>
<path d="M766.5 111V115" stroke-width="1"/>
<path d="M794.5 111V119" stroke-width="1"/>
<path d="M823.5 111V115" stroke-width="1"/>
<path d="M851.5 111V115" stroke-width="1"/>
<path d="M879.5 111V115" stroke-width="1"/>
<path d="M907.5 111V119" stroke-width="1"/>
<path d="M936.5 111V115" stroke-width="1"/>
<path d="M964.5 111V115" stroke-width="1"/>
<path d="M992.5 111V115" stroke-width="1"/>
<path d="M1021.5 111V119" stroke-width="1"/>
<path d="M1049.5 111V115" stroke-width="1"/>
<path d="M1077.5 111V115" stroke-width="1"/>
<path d="M1106.5 111V115" stroke-width="1"/>
<path d="M1134.5 111V119" stroke-width="1"/>
<rect x="119.5" y="144.5" width="1023" height="65" fill="none" stroke="#000" stroke-width="1" shape-rendering="crispEdges"/>
<path d="M143.5 210V214" stroke-width="1"/>
<path d="M171.5 210V214" stroke-width="1"/>
<path d="M200.5 210V214" stroke-width="1"/>
<path d="M228.5 210V218" stroke-width="1"/>
<path d="M256.5 210V214" stroke-width="1"/>
<path d="M285.5 210V214" stroke-width="1"/>
<path d="M313.5 210V214" stroke-width="1"/>
<path d="M341.5 210V218" stroke-width="1"/>
<path d="M370.5 210V214" stroke-width="1"/>
<path d="M398.5 210V214" stroke-width="1"/>
<path d="M426.5 210V214" stroke-width="1"/>
<path d="M454.5 210V218" stroke-width="1"/>
<path d="M483.5 210V214" stroke-width="1"/>
<path d="M511.5 210V214" stroke-width="1"/>
<path d="M539.5 210V214" stroke-width="1"/>
<path d="M568.5 210V218" stroke-width="1"/>
<path d="M596.5 210V214" stroke-width="1"/>
<path d="M624.5 210V214" stroke-width="1"/>
<path d="M653.5 210V214" stroke-width="1"/>
<path d="M681.5 210V218" stroke-width="1"/>
<path d="M709.5 210V214" stroke-width="1"/>
<path d="M738.5 210V214" stroke-width="1"/>
<path d="M766.5 210V214" stroke-width="1"/>
<path d="M794.5 210V218" stroke-width="1"/>
<path d="M823.5 210V214" stroke-width="1"/>
<path d="M851.5 210V214" stroke-width="1"/>
<path d="M879.5 210V214" stroke-width="1"/>
<path d="M907.5 210V218" stroke-width="1"/>
<path d="M936.5 210V214" stroke-width="1"/>
<path d="M964.5 210V214" stroke-width="1"/>
<path d="M992.5 210V214" stroke-width="1"/>
<path d="M1021.5 210V218" stroke-width="1"/>
<path d="M1049.5 210V214" stroke-width="1"/>
<path d="M1077.5 210V214" stroke-width="1"/>
<path d="M1106.5 210V214" stroke-width="1"/>
<path d="M1134.5 210V218" stroke-width="1"/>
<rect x="119.5" y="243.5" width="1023" height="64" fill="none" stroke="#000" stroke-width="1" shape-rendering="crispEdges"/>
<path d="M143.5 308V312" stroke-width="1"/>
<path d="M171.5 308V312" stroke-width="1"/>
<path d="M200.5 308V312" stroke-width="1"/>
<path d="M228.5 308V316" stroke-width="1"/>
<path d="M256.5 308V312" stroke-width="1"/>
<path d="M285.5 308V312" stroke-width="1"/>
<path d="M313.5 308V312" stroke-width="1"/>
<path d="M341.5 308V316" stroke-width="1"/>
<path d="M370.5 308V312" stroke-width="1"/>
<path d="M398.5 308V312" stroke-width="1"/>
<path d="M426.5 308V312" stroke-width="1"/>
<path d="M454.5 308V316" stroke-width="1"/>
<path d="M483.5 308V312" stroke-width="1"/>
<path d="M511.5 308V312" stroke-width="1"/>
<path d="M539.5 308V312" stroke-width="1"/>
<path d="M568.5 308V316" stroke-width="1"/>
<path d="M596.5 308V312" stroke-width="1"/>
<path d="M624.5 308V312" stroke-width="1"/>
<path d="M653.5 308V312" stroke-width="1"/>
<path d="M681.5 308V316" stroke-width="1"/>
<path d="M709.5 308V312" stroke-width="1"/>
<path d="M738.5 308V312" stroke-width="1"/>
<path d="M766.5 308V312" stroke-width="1"/>
<path d="M794.5 308V316" stroke-width="1"/>
<path d="M823.5 308V312" stroke-width="1"/>
<path d="M851.5 308V312" stroke-width="1"/>
<path d="M879.5 308V312" stroke-width="1"/>
<path d="M907.5 308V316" stroke-width="1"/>
<path d="M936.5 308V312" stroke-width="1"/>
<path d="M964.5 308V312" stroke-width="1"/>
<path d="M992.5 308V312" stroke-width="1"/>
<path d="M1021.5 308V316" stroke-width="1"/>
<path d="M1049.5 308V312" stroke-width="1"/>
<path d="M1077.5 308V312" stroke-width="1"/>
<path d="M1106.5 308V312" stroke-width="1"/>
<path d="M1134.5 308V316" stroke-width="1"/>
<rect x="119.5" y="317.5" width="1023" height="21" fill="none" stroke="#000" stroke-width="1" shape-rendering="crispEdges"/>
<path d="M143.5 339V343" stroke-width="1"/>
<path d="M171.5 339V343" stroke-width="1"/>
<path d="M200.5 339V343" stroke-width="1"/>
<path d="M228.5 339V347" stroke-width="1"/>
<path d="M256.5 339V343" stroke-width="1"/>
<path d="M285.5 339V343" stroke-width="1"/>
<path d="M313.5 339V343" stroke-width="1"/>
<path d="M341.5 339V347" stroke-width="1"/>
<path d="M370.5 339V343" stroke-width="1"/>
<path d="M398.5 339V343" stroke-width="1"/>
<path d="M426.5 339V343" stroke-width="1"/>
<path d="M454.5 339V347" stroke-width="1"/>
<path d="M483.5 339V343" stroke-width="1"/>
<path d="M511.5 339V343" stroke-width="1"/>
<path d="M539.5 339V343" stroke-width="1"/>
<path d="M568.5 339V347" stroke-width="1"/>
<path d="M596.5 339V343" stroke-width="1"/>
<path d="M624.5 339V343" stroke-width="1"/>
<path d="M653.5 339V343" stroke-width="1"/>
<path d="M681.5 339V347" stroke-width="1"/>
<path d="M709.5 339V343" stroke-width="1"/>
<path d="M738.5 339V343" stroke-width="1"/>
<path d="M766.5 339V343" stroke-width="1"/>
<path d="M794.5 339V347" stroke-width="1"/>
<path d="M823.5 339V343" stroke-width="1"/>
<path d="M851.5 339V343" stroke-width="1"/>
<path d="M879.5 339V343" stroke-width="1"/>
<path d="M907.5 339V347" stroke-width="1"/>
<path d="M936.5 339V343" stroke-width="1"/>
<path d="M964.5 339V343" stroke-width="1"/>
<path d="M992.5 339V343" stroke-width="1"/>
<path d="M1021.5 339V347" stroke-width="1"/>
<path d="M1049.5 339V343" stroke-width="1"/>
<path d="M1077.5 339V343" stroke-width="1"/>
<path d="M1106.5 339V343" stroke-width="1"/>
<path d="M1134.5 339V347" stroke-width="1"/>
<path d="M111 48.5H119" stroke-width="1"/>
<path d="M115 50.5H119" stroke-width="1"/>
<path d="M111 54.5H119" stroke-width="1"/>
<path d="M115 58.5H119" stroke-width="1"/>
<path d="M111 64.5H119" stroke-width="1"/>
<path d="M115 75.5H119" stroke-width="1"/>
<path d="M111 146.5H119" stroke-width="1"/>
<path d="M111 162.5H119" stroke-width="1"/>
<path d="M115 157.5H119" stroke-width="1"/>
<path d="M115 154.5H119" stroke-width="1"/>
<path d="M115 152.5H119" stroke-width="1"/>
<path d="M115 151.5H119" stroke-width="1"/>
<path d="M115 149.5H119" stroke-width="1"/>
<path d="M115 148.5H119" stroke-width="1"/>
<path d="M115 147.5H119" stroke-width="1"/>
<path d="M115 147.5H119" stroke-width="1"/>
<path d="M111 178.5H119" stroke-width="1"/>
<path d="M115 173.5H119" stroke-width="1"/>
<path d="M115 170.5H119" stroke-width="1"/>
<path d="M115 168.5H119" stroke-width="1"/>
<path d="M115 167.5H119" stroke-width="1"/>
<path d="M115 165.5H119" stroke-width="1"/>
<path d="M115 164.5H119" stroke-width="1"/>
<path d="M115 163.5H119" stroke-width="1"/>
<path d="M115 163.5H119" stroke-width="1"/>
<path d="M111 194.5H119" stroke-width="1"/>
<path d="M115 189.5H119" stroke-width="1"/>
<path d="M115 186.5H119" stroke-width="1"/>
<path d="M115 184.5H119" stroke-width="1"/>
<path d="M115 183.5H119" stroke-width="1"/>
<path d="M115 181.5H119" stroke-width="1"/>
<path d="M115 180.5H119" stroke-width="1"/>
<path d="M115 179.5H119" stroke-width="1"/>
<path d="M115 179.5H119" stroke-width="1"/>
<path d="M115 205.5H119" stroke-width="1"/>
<path d="M115 202.5H119" stroke-width="1"/>
<path d="M115 200.5H119" stroke-width="1"/>
<path d="M115 199.5H119" stroke-width="1"/>
<path d="M115 197.5H119" stroke-width="1"/>
<path d="M115 196.5H119" stroke-width="1"/>
<path d="M115 195.5H119" stroke-width="1"/>
<path d="M115 195.5H119" stroke-width="1"/>
<path d="M111 248.5H119" stroke-width="1"/>
<path d="M111 264.5H119" stroke-width="1"/>
<path d="M115 259.5H119" stroke-width="1"/>
<path d="M115 256.5H119" stroke-width="1"/>
<path d="M115 254.5H119" stroke-width="1"/>
<path d="M115 253.5H119" stroke-width="1"/>
<path d="M115 251.5H119" stroke-width="1"/>
<path d="M115 250.5H119" stroke-width="1"/>
<path d="M115 249.5H119" stroke-width="1"/>
<path d="M115 249.5H119" stroke-width="1"/>
<path d="M111 280.5H119" stroke-width="1"/>
<path d="M115 275.5H119" stroke-width="1"/>
<path d="M115 272.5H119" stroke-width="1"/>
<path d="M115 270.5H119" stroke-width="1"/>
<path d="M115 269.5H119" stroke-width="1"/>
<path d="M115 267.5H119" stroke-width="1"/>
<path d="M115 266.5H119" stroke-width="1"/>
<path d="M115 265.5H119" stroke-width="1"/>
<path d="M115 265.5H119" stroke-width="1"/>
<path d="M111 296.5H119" stroke-width="1"/>
<path d="M115 291.5H119" stroke-width="1"/>
<path d="M115 288.5H119" stroke-width="1"/>
<path d="M115 286.5H119" stroke-width="1"/>
<path d="M115 285.5H119" stroke-width="1"/>
<path d="M115 283.5H119" stroke-width="1"/>
<path d="M115 282.5H119" stroke-width="1"/>
<path d="M115 281.5H119" stroke-width="1"/>
<path d="M115 281.5H119" stroke-width="1"/>
<path d="M115 304.5H119" stroke-width="1"/>
<path d="M115 302.5H119" stroke-width="1"/>
<path d="M115 301.5H119" stroke-width="1"/>
<path d="M115 299.5H119" stroke-width="1"/>
<path d="M115 298.5H119" stroke-width="1"/>
<path d="M115 297.5H119" stroke-width="1"/>
<path d="M115 297.5H119" stroke-width="1"/>
<path d="M111 320.5H119" stroke-width="1"/>
<path d="M115 324.5H119" stroke-width="1"/>
<path d="M111 328.5H119" stroke-width="1"/>
<path d="M115 332.5H119" stroke-width="1"/>
<path d="M111 336.5H119" stroke-width="1"/>
<path d="M1166.5 49V111" stroke-width="1"/>
<path d="M1166.5 146V210" stroke-width="1"/>
<path d="M1166.5 245V308" stroke-width="1"/>
<path d="M1167 50.5H1176" stroke-width="1"/>
<path d="M1167 60.5H1172" stroke-width="1"/>
<path d="M1167 69.5H1176" stroke-width="1"/>
<path d="M1167 79.5H1172" stroke-width="1"/>
<path d="M1167 89.5H1176" stroke-width="1"/>
<path d="M1167 98.5H1172" stroke-width="1"/>
<path d="M1167 108.5H1176" stroke-width="1"/>
<path d="M1167 151.5H1172" stroke-width="1"/>
<path d="M1167 159.5H1176" stroke-width="1"/>
<path d="M1167 166.5H1172" stroke-width="1"/>
<path d="M1167 174.5H1176" stroke-width="1"/>
<path d="M1167 181.5H1172" stroke-width="1"/>
<path d="M1167 188.5H1176" stroke-width="1"/>
<path d="M1167 196.5H1172" stroke-width="1"/>
<path d="M1167 203.5H1176" stroke-width="1"/>
<path d="M1167 246.5H1172" stroke-width="1"/>
<path d="M1167 251.5H1172" stroke-width="1"/>
<path d="M1167 256.5H1172" stroke-width="1"/>
<path d="M1167 262.5H1172" stroke-width="1"/>
<path d="M1167 267.5H1176" stroke-width="1"/>
<path d="M1167 272.5H1172" stroke-width="1"/>
<path d="M1167 278.5H1172" stroke-width="1"/>
<path d="M1167 283.5H1172" stroke-width="1"/>
<path d="M1167 288.5H1172" stroke-width="1"/>
<path d="M1167 294.5H1176" stroke-width="1"/>
<path d="M1167 299.5H1172" stroke-width="1"/>
<path d="M1167 304.5H1172" stroke-width="1"/>
</g>
<rect x="1154" y="49" width="12" height="62" fill="url(#cb)"/>
<rect x="1154" y="146" width="12" height="64" fill="url(#cb)"/>
<rect x="1154" y="245" width="12" height="63" fill="url(#cb)"/>
<g opacity="0.999">
<text x="414.15" y="39.00" font-size="12.10" textLength="95.31" lengthAdjust="spacingAndGlyphs">RBSP-B/EMFISIS</text>
<text x="517.84" y="39.00" font-size="12.10" textLength="23.53" lengthAdjust="spacingAndGlyphs">HFR</text>
<text x="545.76" y="39.00" font-size="12.10" textLength="48.45" lengthAdjust="spacingAndGlyphs">Spectra</text>
<text x="598.60" y="39.00" font-size="12.10" textLength="29.51" lengthAdjust="spacingAndGlyphs">Data</text>
<text x="632.50" y="39.00" font-size="12.10" textLength="62.41" lengthAdjust="spacingAndGlyphs">quick-look</text>
<text x="699.29" y="39.00" font-size="12.10" textLength="29.51" lengthAdjust="spacingAndGlyphs">only,</text>
<text x="733.19" y="39.00" font-size="12.10" textLength="20.54" lengthAdjust="spacingAndGlyphs">not</text>
<text x="758.12" y="39.00" font-size="12.10" textLength="16.55" lengthAdjust="spacingAndGlyphs">for</text>
<text x="779.05" y="39.00" font-size="12.10" textLength="68.39" lengthAdjust="spacingAndGlyphs">publication</text>
<text x="455.73" y="136.00" font-size="12.10" textLength="91.32" lengthAdjust="spacingAndGlyphs">RBSPB/EMFISIS</text>
<text x="555.43" y="136.00" font-size="12.10" textLength="31.50" lengthAdjust="spacingAndGlyphs">EuEu</text>
<text x="591.32" y="136.00" font-size="12.10" textLength="62.41" lengthAdjust="spacingAndGlyphs">quick-look</text>
<text x="658.12" y="136.00" font-size="12.10" textLength="29.51" lengthAdjust="spacingAndGlyphs">only,</text>
<text x="692.02" y="136.00" font-size="12.10" textLength="20.54" lengthAdjust="spacingAndGlyphs">not</text>
<text x="716.94" y="136.00" font-size="12.10" textLength="16.55" lengthAdjust="spacingAndGlyphs">for</text>
<text x="737.88" y="136.00" font-size="12.10" textLength="68.39" lengthAdjust="spacingAndGlyphs">publication</text>
<text x="455.73" y="235.00" font-size="12.10" textLength="91.32" lengthAdjust="spacingAndGlyphs">RBSPB/EMFISIS</text>
<text x="555.43" y="235.00" font-size="12.10" textLength="31.50" lengthAdjust="spacingAndGlyphs">BuBu</text>
<text x="591.32" y="235.00" font-size="12.10" textLength="62.41" lengthAdjust="spacingAndGlyphs">quick-look</text>
<text x="658.12" y="235.00" font-size="12.10" textLength="29.51" lengthAdjust="spacingAndGlyphs">only,</text>
<text x="692.02" y="235.00" font-size="12.10" textLength="20.54" lengthAdjust="spacingAndGlyphs">not</text>
<text x="716.94" y="235.00" font-size="12.10" textLength="16.55" lengthAdjust="spacingAndGlyphs">for</text>
<text x="737.88" y="235.00" font-size="12.10" textLength="68.39" lengthAdjust="spacingAndGlyphs">publication</text>
<text x="459.42" y="440.00" font-size="12.10" textLength="71.38" lengthAdjust="spacingAndGlyphs">2014-04-02</text>
<text x="535.19" y="440.00" font-size="12.10" textLength="33.50" lengthAdjust="spacingAndGlyphs">(092)</text>
<text x="573.08" y="440.00" font-size="12.10" textLength="35.49" lengthAdjust="spacingAndGlyphs">10:02</text>
<text x="612.96" y="440.00" font-size="12.10" textLength="12.56" lengthAdjust="spacingAndGlyphs">to</text>
<text x="629.90" y="440.00" font-size="12.10" textLength="35.49" lengthAdjust="spacingAndGlyphs">19:04</text>
<text x="669.78" y="440.00" font-size="12.10" textLength="133.20" lengthAdjust="spacingAndGlyphs">(orbit:rbspb-pp:1543)</text>
<text x="99.42" y="49.50" font-size="12.10" textLength="7.58" lengthAdjust="spacingAndGlyphs">5</text>
<text x="64.93" y="55.70" font-size="12.10" textLength="33.50" lengthAdjust="spacingAndGlyphs">6×10</text>
<text x="99.42" y="55.50" font-size="12.10" textLength="7.58" lengthAdjust="spacingAndGlyphs">5</text>
<text x="64.93" y="61.70" font-size="12.10" textLength="33.50" lengthAdjust="spacingAndGlyphs">4×10</text>
<text x="99.42" y="65.50" font-size="12.10" textLength="7.58" lengthAdjust="spacingAndGlyphs">5</text>
<text x="64.93" y="71.70" font-size="12.10" textLength="33.50" lengthAdjust="spacingAndGlyphs">2×10</text>
<text x="99.42" y="147.90" font-size="12.10" textLength="7.58" lengthAdjust="spacingAndGlyphs">4</text>
<text x="82.87" y="154.10" font-size="12.10" textLength="15.55" lengthAdjust="spacingAndGlyphs">10</text>
<text x="99.42" y="163.90" font-size="12.10" textLength="7.58" lengthAdjust="spacingAndGlyphs">3</text>
<text x="82.87" y="170.10" font-size="12.10" textLength="15.55" lengthAdjust="spacingAndGlyphs">10</text>
<text x="99.42" y="179.90" font-size="12.10" textLength="7.58" lengthAdjust="spacingAndGlyphs">2</text>
<text x="82.87" y="186.10" font-size="12.10" textLength="15.55" lengthAdjust="spacingAndGlyphs">10</text>
<text x="99.42" y="195.90" font-size="12.10" textLength="7.58" lengthAdjust="spacingAndGlyphs">1</text>
<text x="82.87" y="202.10" font-size="12.10" textLength="15.55" lengthAdjust="spacingAndGlyphs">10</text>
<text x="99.42" y="249.90" font-size="12.10" textLength="7.58" lengthAdjust="spacingAndGlyphs">4</text>
<text x="82.87" y="256.10" font-size="12.10" textLength="15.55" lengthAdjust="spacingAndGlyphs">10</text>
<text x="99.42" y="265.90" font-size="12.10" textLength="7.58" lengthAdjust="spacingAndGlyphs">3</text>
<text x="82.87" y="272.10" font-size="12.10" textLength="15.55" lengthAdjust="spacingAndGlyphs">10</text>
<text x="99.42" y="281.90" font-size="12.10" textLength="7.58" lengthAdjust="spacingAndGlyphs">2</text>
<text x="82.87" y="288.10" font-size="12.10" textLength="15.55" lengthAdjust="spacingAndGlyphs">10</text>
<text x="99.42" y="297.90" font-size="12.10" textLength="7.58" lengthAdjust="spacingAndGlyphs">1</text>
<text x="82.87" y="304.10" font-size="12.10" textLength="15.55" lengthAdjust="spacingAndGlyphs">10</text>
<text x="99.42" y="321.30" font-size="12.10" textLength="7.58" lengthAdjust="spacingAndGlyphs">4</text>
<text x="64.93" y="327.50" font-size="12.10" textLength="33.50" lengthAdjust="spacingAndGlyphs">4×10</text>
<text x="99.42" y="329.30" font-size="12.10" textLength="7.58" lengthAdjust="spacingAndGlyphs">4</text>
<text x="64.93" y="335.50" font-size="12.10" textLength="33.50" lengthAdjust="spacingAndGlyphs">2×10</text>
<text x="93.84" y="340.40" font-size="12.10" textLength="11.56" lengthAdjust="spacingAndGlyphs">0.</text>
<g transform="translate(56.3 78.5) rotate(-90)">
<text x="-7.28" y="0.00" font-size="12.10" textLength="14.55" lengthAdjust="spacingAndGlyphs">Hz</text>
</g>
<g transform="translate(74 176.5) rotate(-90)">
<text x="-7.28" y="0.00" font-size="12.10" textLength="14.55" lengthAdjust="spacingAndGlyphs">Hz</text>
</g>
<g transform="translate(74 275) rotate(-90)">
<text x="-7.28" y="0.00" font-size="12.10" textLength="14.55" lengthAdjust="spacingAndGlyphs">Hz</text>
</g>
<text x="1177.80" y="57.80" font-size="12.10" textLength="15.55" lengthAdjust="spacingAndGlyphs">10</text>
<text x="1194.50" y="51.20" font-size="12.10" textLength="19.54" lengthAdjust="spacingAndGlyphs">-12</text>
<text x="1177.80" y="77.10" font-size="12.10" textLength="15.55" lengthAdjust="spacingAndGlyphs">10</text>
<text x="1194.50" y="70.50" font-size="12.10" textLength="19.54" lengthAdjust="spacingAndGlyphs">-14</text>
<text x="1177.80" y="96.50" font-size="12.10" textLength="15.55" lengthAdjust="spacingAndGlyphs">10</text>
<text x="1194.50" y="89.90" font-size="12.10" textLength="19.54" lengthAdjust="spacingAndGlyphs">-16</text>
<text x="1177.80" y="115.80" font-size="12.10" textLength="15.55" lengthAdjust="spacingAndGlyphs">10</text>
<text x="1194.50" y="109.20" font-size="12.10" textLength="19.54" lengthAdjust="spacingAndGlyphs">-18</text>
<text x="1177.80" y="166.40" font-size="12.10" textLength="15.55" lengthAdjust="spacingAndGlyphs">10</text>
<text x="1194.50" y="159.80" font-size="12.10" textLength="19.54" lengthAdjust="spacingAndGlyphs">-12</text>
<text x="1177.80" y="181.30" font-size="12.10" textLength="15.55" lengthAdjust="spacingAndGlyphs">10</text>
<text x="1194.50" y="174.70" font-size="12.10" textLength="19.54" lengthAdjust="spacingAndGlyphs">-14</text>
<text x="1177.80" y="196.20" font-size="12.10" textLength="15.55" lengthAdjust="spacingAndGlyphs">10</text>
<text x="1194.50" y="189.60" font-size="12.10" textLength="19.54" lengthAdjust="spacingAndGlyphs">-16</text>
<text x="1177.80" y="211.10" font-size="12.10" textLength="15.55" lengthAdjust="spacingAndGlyphs">10</text>
<text x="1194.50" y="204.50" font-size="12.10" textLength="19.54" lengthAdjust="spacingAndGlyphs">-18</text>
<text x="1177.80" y="274.80" font-size="12.10" textLength="15.55" lengthAdjust="spacingAndGlyphs">10</text>
<text x="1194.50" y="268.20" font-size="12.10" textLength="11.56" lengthAdjust="spacingAndGlyphs">-5</text>
<text x="1177.80" y="301.50" font-size="12.10" textLength="15.55" lengthAdjust="spacingAndGlyphs">10</text>
<text x="1194.50" y="294.90" font-size="12.10" textLength="19.54" lengthAdjust="spacingAndGlyphs">-10</text>
<g transform="translate(1222.6 41) rotate(90)">
<text x="0.20" y="0.00" font-size="12.10" textLength="78.36" lengthAdjust="spacingAndGlyphs">V^2/m^2/Hz</text>
</g>
<clipPath id="c2"><rect x="1215" y="133.6" width="30" height="84.8"/></clipPath>
<g clip-path="url(#c2)"><g transform="translate(1222.8 133.4) rotate(90)">
<text x="0.20" y="0.00" font-size="12.10" textLength="28.51" lengthAdjust="spacingAndGlyphs">tude</text>
<text x="33.10" y="0.00" font-size="12.10" textLength="64.41" lengthAdjust="spacingAndGlyphs">(V^2/m^2</text>
</g></g>
<clipPath id="c3"><rect x="1215" y="231.0" width="30" height="85.6"/></clipPath>
<g clip-path="url(#c3)"><g transform="translate(1222.8 231.4) rotate(90)">
<text x="0.20" y="0.00" font-size="12.10" textLength="42.47" lengthAdjust="spacingAndGlyphs">plitude</text>
<text x="47.06" y="0.00" font-size="12.10" textLength="37.49" lengthAdjust="spacingAndGlyphs">(nT^2</text>
</g></g>
<text x="210.58" y="362.00" font-size="12.10" textLength="35.49" lengthAdjust="spacingAndGlyphs">11:00</text>
<text x="323.83" y="362.00" font-size="12.10" textLength="35.49" lengthAdjust="spacingAndGlyphs">12:00</text>
<text x="437.07" y="362.00" font-size="12.10" textLength="35.49" lengthAdjust="spacingAndGlyphs">13:00</text>
<text x="550.32" y="362.00" font-size="12.10" textLength="35.49" lengthAdjust="spacingAndGlyphs">14:00</text>
<text x="663.57" y="362.00" font-size="12.10" textLength="35.49" lengthAdjust="spacingAndGlyphs">15:00</text>
<text x="776.82" y="362.00" font-size="12.10" textLength="35.49" lengthAdjust="spacingAndGlyphs">16:00</text>
<text x="890.06" y="362.00" font-size="12.10" textLength="35.49" lengthAdjust="spacingAndGlyphs">17:00</text>
<text x="1003.31" y="362.00" font-size="12.10" textLength="35.49" lengthAdjust="spacingAndGlyphs">18:00</text>
<text x="1116.56" y="362.00" font-size="12.10" textLength="35.49" lengthAdjust="spacingAndGlyphs">19:00</text>
<text x="73.12" y="377.00" font-size="12.10" textLength="7.58" lengthAdjust="spacingAndGlyphs">R</text>
<text x="80.80" y="380.20" font-size="4.64" textLength="2.51" lengthAdjust="spacingAndGlyphs">E</text>
<text x="210.58" y="377.00" font-size="12.10" textLength="35.49" lengthAdjust="spacingAndGlyphs">2.894</text>
<text x="323.83" y="377.00" font-size="12.10" textLength="35.49" lengthAdjust="spacingAndGlyphs">4.409</text>
<text x="437.07" y="377.00" font-size="12.10" textLength="35.49" lengthAdjust="spacingAndGlyphs">5.312</text>
<text x="550.32" y="377.00" font-size="12.10" textLength="35.49" lengthAdjust="spacingAndGlyphs">5.748</text>
<text x="663.57" y="377.00" font-size="12.10" textLength="35.49" lengthAdjust="spacingAndGlyphs">5.770</text>
<text x="776.82" y="377.00" font-size="12.10" textLength="35.49" lengthAdjust="spacingAndGlyphs">5.380</text>
<text x="890.06" y="377.00" font-size="12.10" textLength="35.49" lengthAdjust="spacingAndGlyphs">4.532</text>
<text x="1003.31" y="377.00" font-size="12.10" textLength="35.49" lengthAdjust="spacingAndGlyphs">3.094</text>
<text x="1116.56" y="377.00" font-size="12.10" textLength="35.49" lengthAdjust="spacingAndGlyphs">1.118</text>
<text x="54.49" y="392.00" font-size="12.10" textLength="29.51" lengthAdjust="spacingAndGlyphs">MLat</text>
<text x="206.59" y="392.00" font-size="12.10" textLength="39.48" lengthAdjust="spacingAndGlyphs">-0.424</text>
<text x="323.83" y="392.00" font-size="12.10" textLength="35.49" lengthAdjust="spacingAndGlyphs">0.834</text>
<text x="437.07" y="392.00" font-size="12.10" textLength="35.49" lengthAdjust="spacingAndGlyphs">2.651</text>
<text x="550.32" y="392.00" font-size="12.10" textLength="35.49" lengthAdjust="spacingAndGlyphs">4.546</text>
<text x="663.57" y="392.00" font-size="12.10" textLength="35.49" lengthAdjust="spacingAndGlyphs">6.467</text>
<text x="776.82" y="392.00" font-size="12.10" textLength="35.49" lengthAdjust="spacingAndGlyphs">8.518</text>
<text x="882.09" y="392.00" font-size="12.10" textLength="43.47" lengthAdjust="spacingAndGlyphs">11.000</text>
<text x="995.33" y="392.00" font-size="12.10" textLength="43.47" lengthAdjust="spacingAndGlyphs">14.580</text>
<text x="1116.56" y="392.00" font-size="12.10" textLength="35.49" lengthAdjust="spacingAndGlyphs">3.067</text>
<text x="60.47" y="407.00" font-size="12.10" textLength="23.53" lengthAdjust="spacingAndGlyphs">MLT</text>
<text x="210.58" y="407.00" font-size="12.10" textLength="35.49" lengthAdjust="spacingAndGlyphs">6.860</text>
<text x="323.83" y="407.00" font-size="12.10" textLength="35.49" lengthAdjust="spacingAndGlyphs">8.612</text>
<text x="437.07" y="407.00" font-size="12.10" textLength="35.49" lengthAdjust="spacingAndGlyphs">9.584</text>
<text x="542.35" y="407.00" font-size="12.10" textLength="43.47" lengthAdjust="spacingAndGlyphs">10.340</text>
<text x="655.59" y="407.00" font-size="12.10" textLength="43.47" lengthAdjust="spacingAndGlyphs">11.040</text>
<text x="768.84" y="407.00" font-size="12.10" textLength="43.47" lengthAdjust="spacingAndGlyphs">11.790</text>
<text x="882.09" y="407.00" font-size="12.10" textLength="43.47" lengthAdjust="spacingAndGlyphs">12.740</text>
<text x="995.33" y="407.00" font-size="12.10" textLength="43.47" lengthAdjust="spacingAndGlyphs">14.370</text>
<text x="1108.58" y="407.00" font-size="12.10" textLength="43.47" lengthAdjust="spacingAndGlyphs">21.600</text>
<text x="77.42" y="422.00" font-size="12.10" textLength="6.58" lengthAdjust="spacingAndGlyphs">L</text>
<text x="210.58" y="422.00" font-size="12.10" textLength="35.49" lengthAdjust="spacingAndGlyphs">2.894</text>
<text x="323.83" y="422.00" font-size="12.10" textLength="35.49" lengthAdjust="spacingAndGlyphs">4.410</text>
<text x="437.07" y="422.00" font-size="12.10" textLength="35.49" lengthAdjust="spacingAndGlyphs">5.324</text>
<text x="550.32" y="422.00" font-size="12.10" textLength="35.49" lengthAdjust="spacingAndGlyphs">5.784</text>
<text x="663.57" y="422.00" font-size="12.10" textLength="35.49" lengthAdjust="spacingAndGlyphs">5.844</text>
<text x="776.82" y="422.00" font-size="12.10" textLength="35.49" lengthAdjust="spacingAndGlyphs">5.501</text>
<text x="890.06" y="422.00" font-size="12.10" textLength="35.49" lengthAdjust="spacingAndGlyphs">4.703</text>
<text x="1003.31" y="422.00" font-size="12.10" textLength="35.49" lengthAdjust="spacingAndGlyphs">3.303</text>
<text x="1116.56" y="422.00" font-size="12.10" textLength="35.49" lengthAdjust="spacingAndGlyphs">1.121</text>
</g>
</svg></body></html>
